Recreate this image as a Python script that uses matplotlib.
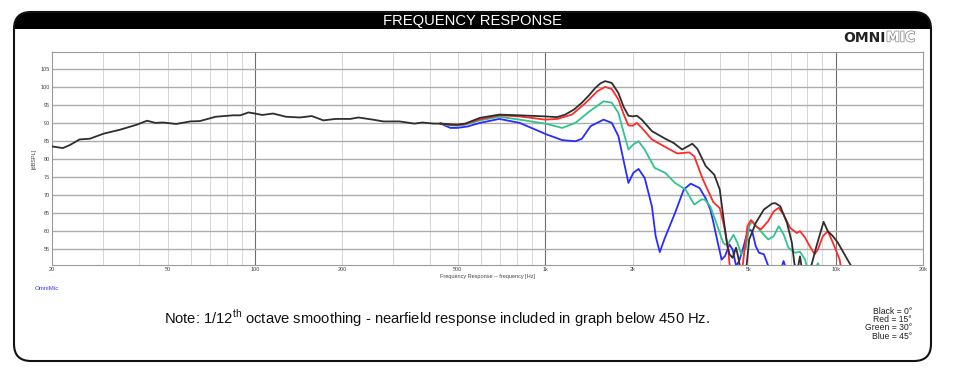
#!/usr/bin/env python3
"""Frequency response (OmniMic style) - 0/15/30/45 degree off-axis curves."""

import matplotlib
matplotlib.use("Agg")
import matplotlib.pyplot as plt
import matplotlib.patches as patches
import matplotlib.patheffects as pe

plt.rcParams["font.family"] = ["Liberation Sans", "DejaVu Sans"]
plt.rcParams["mathtext.fontset"] = "custom"
plt.rcParams["mathtext.rm"] = "Liberation Sans"

# ---- data ----
# shared nearfield-merged part below ~440 Hz
low_freq = [20, 20.2, 21.8, 23, 24.9, 27, 30.1, 34.3, 39.2, 42.5, 45.4, 48.4,
            53.6, 59.8, 64.6, 73.2, 84, 89, 95, 100, 106, 115.5, 128, 143,
            157, 172, 190, 213, 227, 255, 277, 315, 354, 377, 413, 436]
low_db = [83.5, 83.4, 83.0, 83.8, 85.4, 85.6, 87.0, 88.1, 89.5, 90.6, 90.0, 90.1,
          89.7, 90.4, 90.5, 91.7, 92.1, 92.1, 92.9, 92.6, 92.2, 92.6, 91.7, 91.5,
          91.9, 90.7, 91.1, 91.1, 91.5, 90.9, 90.4, 90.4, 89.8, 90.1, 89.8, 89.8]

black_freq = [436, 470, 497, 530, 596, 695, 816, 1000, 1097, 1172, 1260, 1337,
              1420, 1486, 1550, 1608, 1695, 1786, 1860, 1934, 2000, 2067, 2150,
              2330, 2590, 2770, 2960, 3210, 3340, 3570, 3820, 3990, 4130, 4240,
              4310, 4420, 4540, 4640, 4720, 4910, 5040, 5310, 5660, 6050, 6200,
              6450, 6800, 7070, 7200, 7350, 7540, 7700, 8260, 8590, 9090, 9400,
              9790, 10180, 10900, 11300]
black_db = [89.8, 89.6, 89.5, 89.8, 91.4, 92.3, 92.1, 91.8, 91.6, 92.3, 93.8, 95.6,
            97.8, 99.7, 101.0, 101.6, 101.1, 98.3, 94.5, 92.0, 91.8, 92.0, 90.9,
            87.7, 85.6, 84.4, 82.6, 84.2, 82.8, 78.0, 75.6, 71.5, 62.2, 55.7,
            53.5, 52.5, 55.3, 52.0, 48.0, 48.5, 57.6, 62.2, 65.9, 67.6, 67.7,
            66.8, 62.2, 56.7, 51.3, 48.0, 52.9, 48.0, 50.5, 55.7, 62.5, 59.9,
            58.5, 56.7, 52.5, 50.3]

red_freq = [436, 470, 497, 530, 596, 695, 816, 1000, 1100, 1235, 1380, 1512,
            1608, 1695, 1786, 1860, 1934, 2000, 2067, 2150, 2330, 2590, 2850,
            3130, 3260, 3490, 3790, 3990, 4130, 4270, 4350, 4730, 4970, 5110,
            5310, 5530, 5860, 6120, 6370, 6620, 6980, 7350, 7540, 7850, 8150,
            8470, 8690, 9040, 9400, 9790, 10330, 10500]
red_db = [89.8, 89.5, 89.4, 89.7, 91.0, 92.1, 91.8, 90.9, 91.1, 92.3, 95.6, 98.8,
          100.0, 99.4, 96.5, 92.5, 89.3, 89.2, 90.0, 88.6, 85.4, 83.3, 81.5,
          81.8, 80.7, 74.3, 68.0, 66.3, 61.3, 54.8, 47.0, 47.0, 61.3, 63.0,
          61.3, 60.4, 62.7, 65.4, 66.4, 64.5, 60.8, 59.4, 59.9, 58.1, 55.7,
          53.5, 54.8, 58.5, 59.9, 56.7, 52.0, 48.0]

green_freq = [436, 470, 497, 530, 596, 695, 816, 1000, 1145, 1270, 1420, 1588,
              1695, 1786, 1860, 1934, 2010, 2095, 2200, 2380, 2590, 2800, 3040,
              3260, 3450, 3540, 3700, 3890, 4100, 4160, 4270, 4450, 4590, 4730,
              4910, 5040, 5160, 5450, 5860, 6120, 6370, 6620, 6880, 7250, 7540,
              7850, 8050, 8300, 8700, 8950]
green_db = [89.8, 89.3, 89.2, 89.5, 90.7, 91.7, 90.9, 89.8, 88.6, 90.0, 93.2, 96.0,
            95.6, 92.8, 87.5, 82.6, 84.0, 84.9, 82.6, 77.5, 76.1, 73.3, 71.5,
            67.3, 68.7, 68.7, 66.8, 62.0, 56.7, 56.2, 56.5, 58.9, 56.7, 53.5,
            55.3, 61.3, 62.7, 60.4, 57.6, 58.5, 61.3, 59.0, 55.3, 53.9, 54.2,
            52.0, 48.5, 48.0, 51.0, 48.0]

blue_freq = [436, 471, 497, 540, 596, 695, 816, 1010, 1145, 1270, 1337, 1433,
             1588, 1695, 1786, 1858, 1934, 2010, 2095, 2200, 2330, 2400, 2480,
             2570, 2800, 3000, 3170, 3400, 3570, 3700, 3790, 3940, 4050, 4160,
             4310, 4420, 4540, 4650, 4790, 4910, 5040, 5160, 5310, 5450, 5660,
             5860, 6000, 6400, 6620, 6850]
blue_db = [89.8, 88.6, 88.6, 89.0, 90.0, 91.1, 90.0, 86.8, 85.2, 84.9, 85.6, 89.1,
           90.9, 90.0, 86.3, 79.8, 73.3, 76.1, 77.2, 74.7, 66.8, 58.5, 54.1,
           57.6, 65.0, 71.5, 73.1, 71.9, 69.0, 66.0, 62.5, 56.2, 52.0, 53.0,
           56.2, 54.8, 50.3, 51.5, 54.8, 58.1, 60.4, 59.9, 55.7, 53.9, 53.5,
           50.3, 48.0, 48.0, 51.6, 48.0]

xtick_vals = [20, 50, 100, 200, 500, 1000, 2000, 5000, 10000, 20000]
xtick_labels = ["20", "50", "100", "200", "500", "1k", "2k", "5k", "10k", "20k"]
ytick_vals = [55, 60, 65, 70, 75, 80, 85, 90, 95, 100, 105]
legend_lines = ["Black = 0\u00b0", "Red = 15\u00b0", "Green = 30\u00b0", "Blue = 45\u00b0"]


def main():
    W, H = 955, 372
    fig = plt.figure(figsize=(W / 100, H / 100), dpi=100)

    # background panel in pixel coordinates
    bg = fig.add_axes([0, 0, 1, 1], zorder=0)
    bg.set_xlim(0, W)
    bg.set_ylim(H, 0)
    bg.axis("off")

    fx, fy, fw, fh = 14, 12, 917, 349
    header = patches.FancyBboxPatch((fx, fy), fw, 40,
                                    boxstyle="round,pad=0,rounding_size=16",
                                    facecolor="black", edgecolor="none")
    bg.add_patch(header)
    bg.add_patch(patches.Rectangle((fx, 29), fw, 30, facecolor="white",
                                   edgecolor="none"))
    frame = patches.FancyBboxPatch((fx, fy), fw, fh,
                                   boxstyle="round,pad=0,rounding_size=17",
                                   facecolor="none", edgecolor="#111111",
                                   linewidth=1.5)
    bg.add_patch(frame)

    bg.text(472, 21, "FREQUENCY RESPONSE", color="white", fontsize=10.6,
            ha="center", va="center")

    # OMNIMIC logo
    bg.text(886, 37.5, "OMNI", fontsize=10, fontweight="heavy",
            family="DejaVu Sans", color="#222222", ha="right", va="center")
    bg.text(886, 37.5, "MIC", fontsize=10, fontweight="heavy",
            family="DejaVu Sans", color="white", ha="left", va="center",
            path_effects=[pe.withStroke(linewidth=1.0, foreground="#808080")])

    bg.text(35, 288, "OmniMic", fontsize=4.5, color="#3a3aff",
            ha="left", va="center")

    bg.text(437, 318, r"Note: 1/12$^{\rm th}$ octave smoothing - nearfield "
            "response included in graph below 450 Hz.",
            fontsize=10.6, ha="center", va="center", color="#111111")

    for i, line in enumerate(legend_lines):
        bg.text(912, 311 + i * 8.5, line, fontsize=6.2, ha="right",
                va="center", color="#222222")

    # main plot
    left, right, top, bottom = 52, 923, 52, 265
    ax = fig.add_axes([left / W, 1 - bottom / H, (right - left) / W,
                       (bottom - top) / H], zorder=1)
    ax.set_xscale("log")
    ax.set_xlim(20, 20000)
    ax.set_ylim(50.5, 109.7)

    # grid
    for dec in [10, 100, 1000, 10000]:
        for m in range(2, 10):
            f = dec * m
            if 20 < f < 20000:
                ax.axvline(f, color="#cfcfcf", linewidth=0.6, zorder=0)
    for f in [100, 1000, 10000]:
        ax.axvline(f, color="#6e6e6e", linewidth=0.8, zorder=0)
    for y in ytick_vals:
        ax.axhline(y, color="#acacac", linewidth=1.0, zorder=0)

    lw = 1.3
    ax.plot(blue_freq, blue_db, color="#2b2bff", linewidth=lw, zorder=2)
    ax.plot(green_freq, green_db, color="#30c48e", linewidth=lw, zorder=3)
    ax.plot(red_freq, red_db, color="#ff2a2a", linewidth=lw, zorder=4)
    ax.plot(low_freq, low_db, color="#2e2e2e", linewidth=lw, zorder=5)
    ax.plot(black_freq, black_db, color="#2e2e2e", linewidth=lw, zorder=5)

    ax.set_xticks(xtick_vals)
    ax.set_xticklabels(xtick_labels)
    ax.xaxis.set_minor_locator(matplotlib.ticker.NullLocator())
    ax.set_yticks(ytick_vals)
    ax.tick_params(length=0, labelsize=4, labelcolor="#444444", pad=1.5)
    ax.set_xlabel("Frequency Response -- frequency [Hz]", fontsize=4,
                  color="#444444", labelpad=1.5)
    ax.set_ylabel("[dBSPL]", fontsize=4, color="#444444", labelpad=3)
    for s in ax.spines.values():
        s.set_color("#9a9a9a")
        s.set_linewidth(0.8)

    fig.savefig("out.png", dpi=100)


if __name__ == "__main__":
    main()
